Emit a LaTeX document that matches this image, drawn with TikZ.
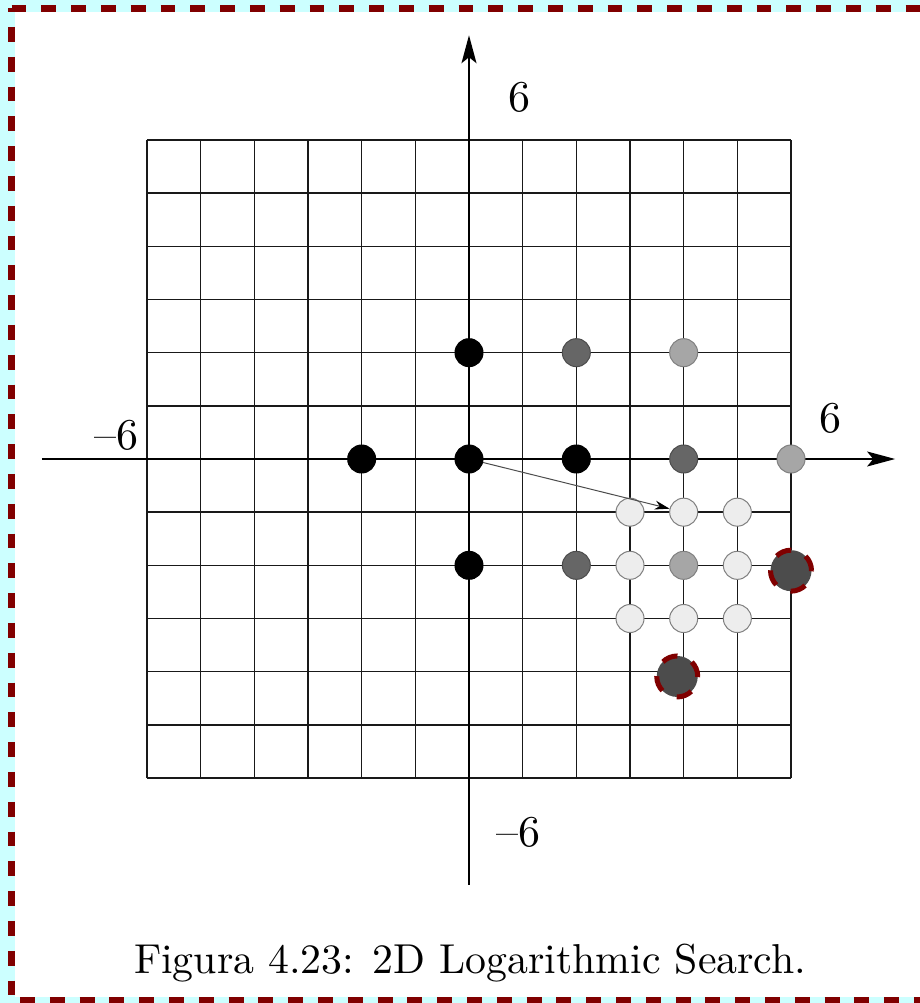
\documentclass[tikz,border=0pt]{standalone}
\usepackage{xcolor}
\usepackage{tikz}
\usetikzlibrary{shapes.geometric, arrows.meta}
\usetikzlibrary{calc,positioning}

\definecolor{achtercyaan}{HTML}{CCFFFF}
\definecolor{donkerrood}{HTML}{800000}

\begin{document}
\begin{tikzpicture}[x=26.835pt, y=26.585pt,
    >={Stealth[length=14pt, width=7.5pt, inset=3pt]},
    rooster/.style={line width=0.75pt, black!90},
    as/.style={line width=0.75pt, black},
    lbl/.style={font=\fontsize{10}{12}\selectfont, inner sep=0pt},
    dot/.style={circle, inner sep=0pt, minimum size=14pt, line width=0.5pt},
    zwart/.style={dot, fill=black, draw=black},
    donker/.style={dot, fill=black!60, draw=black!70},
    middel/.style={dot, fill=black!35, draw=black!50},
    licht/.style={dot, fill=black!7, draw=black!50},
    gemarkeerd/.style={circle, inner sep=0pt, minimum size=20.5pt,
        fill=black!70, draw=donkerrood, line width=2.5pt,
        dash pattern=on 8pt off 8pt}
]

    % Achtergrond
    \useasboundingbox (-8.7386,-10.2313) rectangle (8.4032,8.6327);
    \clip (-8.7386,-10.2313) rectangle (8.4032,8.6327);
    \fill[achtercyaan] (-8.7386,-10.2313) rectangle (8.4032,8.6327);
    \fill[white] (-8.459,-10.118) rectangle (8.6,8.407);
    \draw[donkerrood, line width=3.5pt, dash pattern=on 7.45pt off 7.45pt]
        (-8.524,8.473) -- (8.7,8.473);
    \draw[donkerrood, line width=3.5pt, dash pattern=on 7.45pt off 7.45pt,
        dash phase=5.65pt] (-8.524,8.473) -- (-8.524,-10.184);
    \draw[donkerrood, line width=3.5pt, dash pattern=on 7.45pt off 7.45pt,
        dash phase=10.65pt] (-8.524,-10.184) -- (8.7,-10.184);

    % Rooster
    \foreach \i in {-6,...,6} {
        \draw[rooster] (\i,-6) -- (\i,6);
        \draw[rooster] (-6,\i) -- (6,\i);
    }

    % Assen
    \draw[->, as] (-7.96,0) -- (7.94,0);
    \draw[->, as] (0,-8.01) -- (0,7.97);

    \node[lbl] (ytop) at (0.95,6.81) {\scalebox{2.2}{6}};
    \node[lbl] (xrechts) at (6.73,0.77) {\scalebox{2.2}{6}};
    \node[lbl] (xlinks) at (-6.56,0.45) {\scalebox{2.2}{--6}};
    \node[lbl] (yonder) at (0.93,-7.02) {\scalebox{2.2}{--6}};

    % Stap 1
    \foreach \n/\x/\y in {k0/0/0, kn/0/2, kw/-2/0, ke/2/0, ks/0/-2}
        \node[zwart] (\n) at (\x,\y) {};

    % Stap 2
    \foreach \n/\x/\y in {dn/2/2, de/4/0, ds/2/-2}
        \node[donker] (\n) at (\x,\y) {};

    % Stap 3
    \foreach \n/\x/\y in {mn/4/2, me/6/0, ms/4/-2}
        \node[middel] (\n) at (\x,\y) {};

    % Laatste stap
    \foreach \n/\x/\y in {l31/3/-1, l41/4/-1, l51/5/-1, l32/3/-2, l52/5/-2,
                          l33/3/-3, l43/4/-3, l53/5/-3}
        \node[licht] (\n) at (\x,\y) {};

    \node[gemarkeerd] (r1) at (6.0,-2.1) {};
    \node[gemarkeerd] (r2) at (3.88,-4.09) {};

    % Pijl
    \draw[black!70, line width=0.5pt,
        -{Stealth[length=7.5pt, width=4.5pt, black]}] (k0) -- (l41);

    \node[anchor=base, font=\fontsize{10}{12}\selectfont, inner sep=0pt]
        (bijschrift) at (0.02,-9.68)
        {\scalebox{2.09}{Figura 4.23: 2D Logarithmic Search.}};

\end{tikzpicture}
\end{document}
